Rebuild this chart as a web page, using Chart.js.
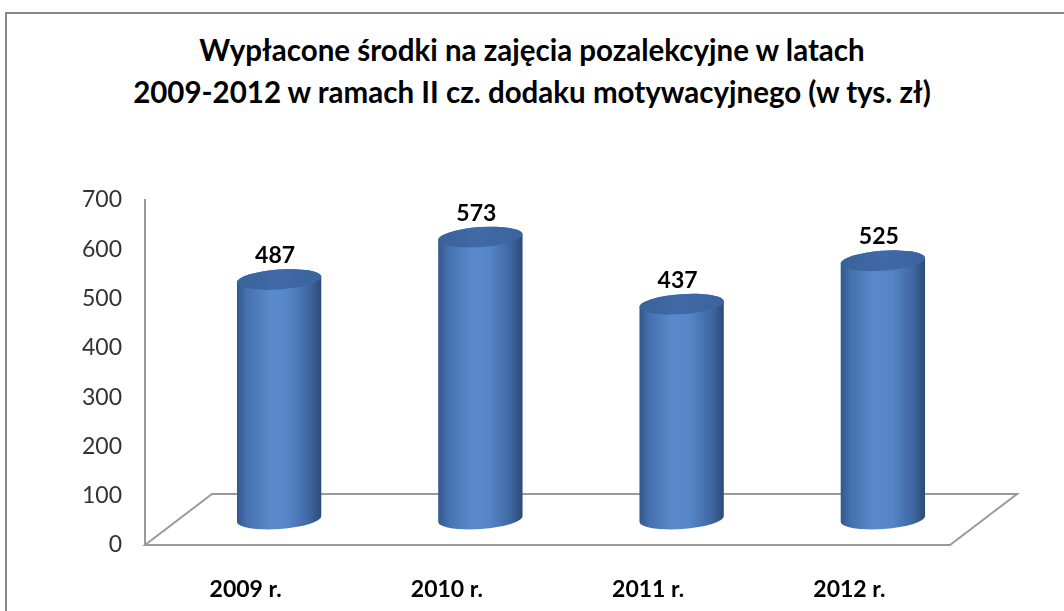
<!DOCTYPE html>
<html lang="pl">
<head>
<meta charset="utf-8">
<title>Wypłacone środki na zajęcia pozalekcyjne</title>
<script src="https://cdn.jsdelivr.net/npm/chart.js@4"></script>
<style>
    html, body { margin: 0; padding: 0; background: #fff; }
    .chart-wrap { position: relative; width: 1064px; height: 611px; overflow: hidden; }
    .chart-frame { position: absolute; left: 5px; top: 12px; width: 1100px; height: 700px; border: 2px solid #878787; }
    .chart-title {
        position: absolute; left: 0; top: 29px; width: 1064px; text-align: center;
        font-family: Lato, "Open Sans", sans-serif; font-weight: bold; font-size: 29.5px; line-height: 42px; color: #000;
    }
    #payoutChart { position: absolute; left: 0; top: 0; }
</style>
</head>
<body>
<div class="chart-wrap">
    <div class="chart-frame"></div>
    <div class="chart-title">Wypłacone środki na zajęcia pozalekcyjne w latach<br>2009-2012 w ramach II cz. dodaku motywacyjnego (w tys. zł)</div>
    <canvas id="payoutChart" width="1064" height="611"></canvas>
</div>
<script>
// Chart data
const years = ['2009 r.', '2010 r.', '2011 r.', '2012 r.'];
const payouts = [487, 573, 437, 525];
const axisMin = 0;
const axisMax = 700;
const axisStep = 100;

// 3D look: floor depth (front edge -> back edge)
const depthX = 67;
const depthY = -51;

// Draws the floor parallelogram under the cylinders
const floorPlugin = {
    id: 'floor',
    beforeDatasetsDraw(chart) {
        const { ctx, chartArea } = chart;
        const l = chartArea.left, r = chartArea.right, b = chartArea.bottom;
        ctx.save();
        ctx.strokeStyle = '#9a9a9a';
        ctx.lineWidth = 2;
        ctx.beginPath();
        ctx.moveTo(l, b);
        ctx.lineTo(l + depthX, b + depthY);
        ctx.lineTo(r + depthX, b + depthY);
        ctx.lineTo(r, b);
        ctx.closePath();
        ctx.stroke();
        ctx.restore();
    }
};

// Draws every bar as a cylinder, set half way into the floor
const cylinderPlugin = {
    id: 'cylinders',
    afterDatasetsDraw(chart) {
        const { ctx } = chart;
        const meta = chart.getDatasetMeta(0);
        const tilt = -0.07;

        meta.data.forEach((bar, index) => {
            const { x, y, base, width } = bar.getProps(['x', 'y', 'base', 'width'], true);
            const cx = x + depthX / 2;
            const top = y + depthY / 2;
            const bottom = base + depthY / 2;
            const rx = width / 2;
            const ry = 10;

            // body
            const grad = ctx.createLinearGradient(cx - rx, 0, cx + rx, 0);
            grad.addColorStop(0, '#33578c');
            grad.addColorStop(0.12, '#4571ae');
            grad.addColorStop(0.4, '#5a8acc');
            grad.addColorStop(0.6, '#5586c8');
            grad.addColorStop(0.85, '#3f68a3');
            grad.addColorStop(1, '#2c4a75');

            ctx.save();
            ctx.beginPath();
            ctx.ellipse(cx, bottom, rx, ry, tilt, 0, Math.PI, false);
            ctx.ellipse(cx, top, rx, ry, tilt, Math.PI, Math.PI * 2, false);
            ctx.closePath();
            ctx.fillStyle = grad;
            ctx.fill();

            // top cap
            const capGrad = ctx.createLinearGradient(cx - rx, top, cx + rx, top);
            capGrad.addColorStop(0, '#3a629b');
            capGrad.addColorStop(0.5, '#4069a6');
            capGrad.addColorStop(1, '#3b639e');
            ctx.beginPath();
            ctx.ellipse(cx, top, rx, ry, tilt, 0, Math.PI * 2);
            ctx.fillStyle = capGrad;
            ctx.fill();

            // value label
            ctx.fillStyle = '#000';
            ctx.font = 'bold 23px Lato, "Open Sans", sans-serif';
            ctx.textAlign = 'center';
            ctx.textBaseline = 'middle';
            ctx.fillText(String(payouts[index]), cx - 4, top - 24);
            ctx.restore();
        });
    }
};

// Function to create the payout chart
function createPayoutChart() {
    const ctxPayout = document.getElementById('payoutChart').getContext('2d');

    window.payoutChart = new Chart(ctxPayout, {
        type: 'bar',
        data: {
            labels: years,
            datasets: [{
                data: payouts,
                backgroundColor: 'rgba(0,0,0,0)',
                borderWidth: 0,
                barPercentage: 0.42,
                categoryPercentage: 1
            }]
        },
        options: {
            responsive: false,
            animation: false,
            devicePixelRatio: 1,
            layout: {
                padding: { left: 0, right: 114, top: 200, bottom: 0 }
            },
            plugins: {
                legend: { display: false },
                tooltip: { enabled: false }
            },
            scales: {
                x: {
                    grid: { display: false },
                    border: { display: false },
                    ticks: {
                        color: '#000',
                        padding: 23,
                        font: { family: 'Lato, "Open Sans", sans-serif', size: 23, weight: 'bold' }
                    },
                    afterFit: function (scale) { scale.height = 66; }
                },
                y: {
                    min: axisMin,
                    max: axisMax,
                    grid: { display: true, color: 'rgba(0,0,0,0)', drawTicks: false },
                    border: { display: true, color: '#9a9a9a', width: 2 },
                    ticks: {
                        stepSize: axisStep,
                        color: '#333',
                        padding: 23,
                        font: { family: 'Lato, "Open Sans", sans-serif', size: 23 }
                    },
                    afterFit: function (scale) { scale.width = 145; }
                }
            }
        },
        plugins: [floorPlugin, cylinderPlugin]
    });
}

window.addEventListener('load', function () {
    createPayoutChart();
});
</script>
</body>
</html>
